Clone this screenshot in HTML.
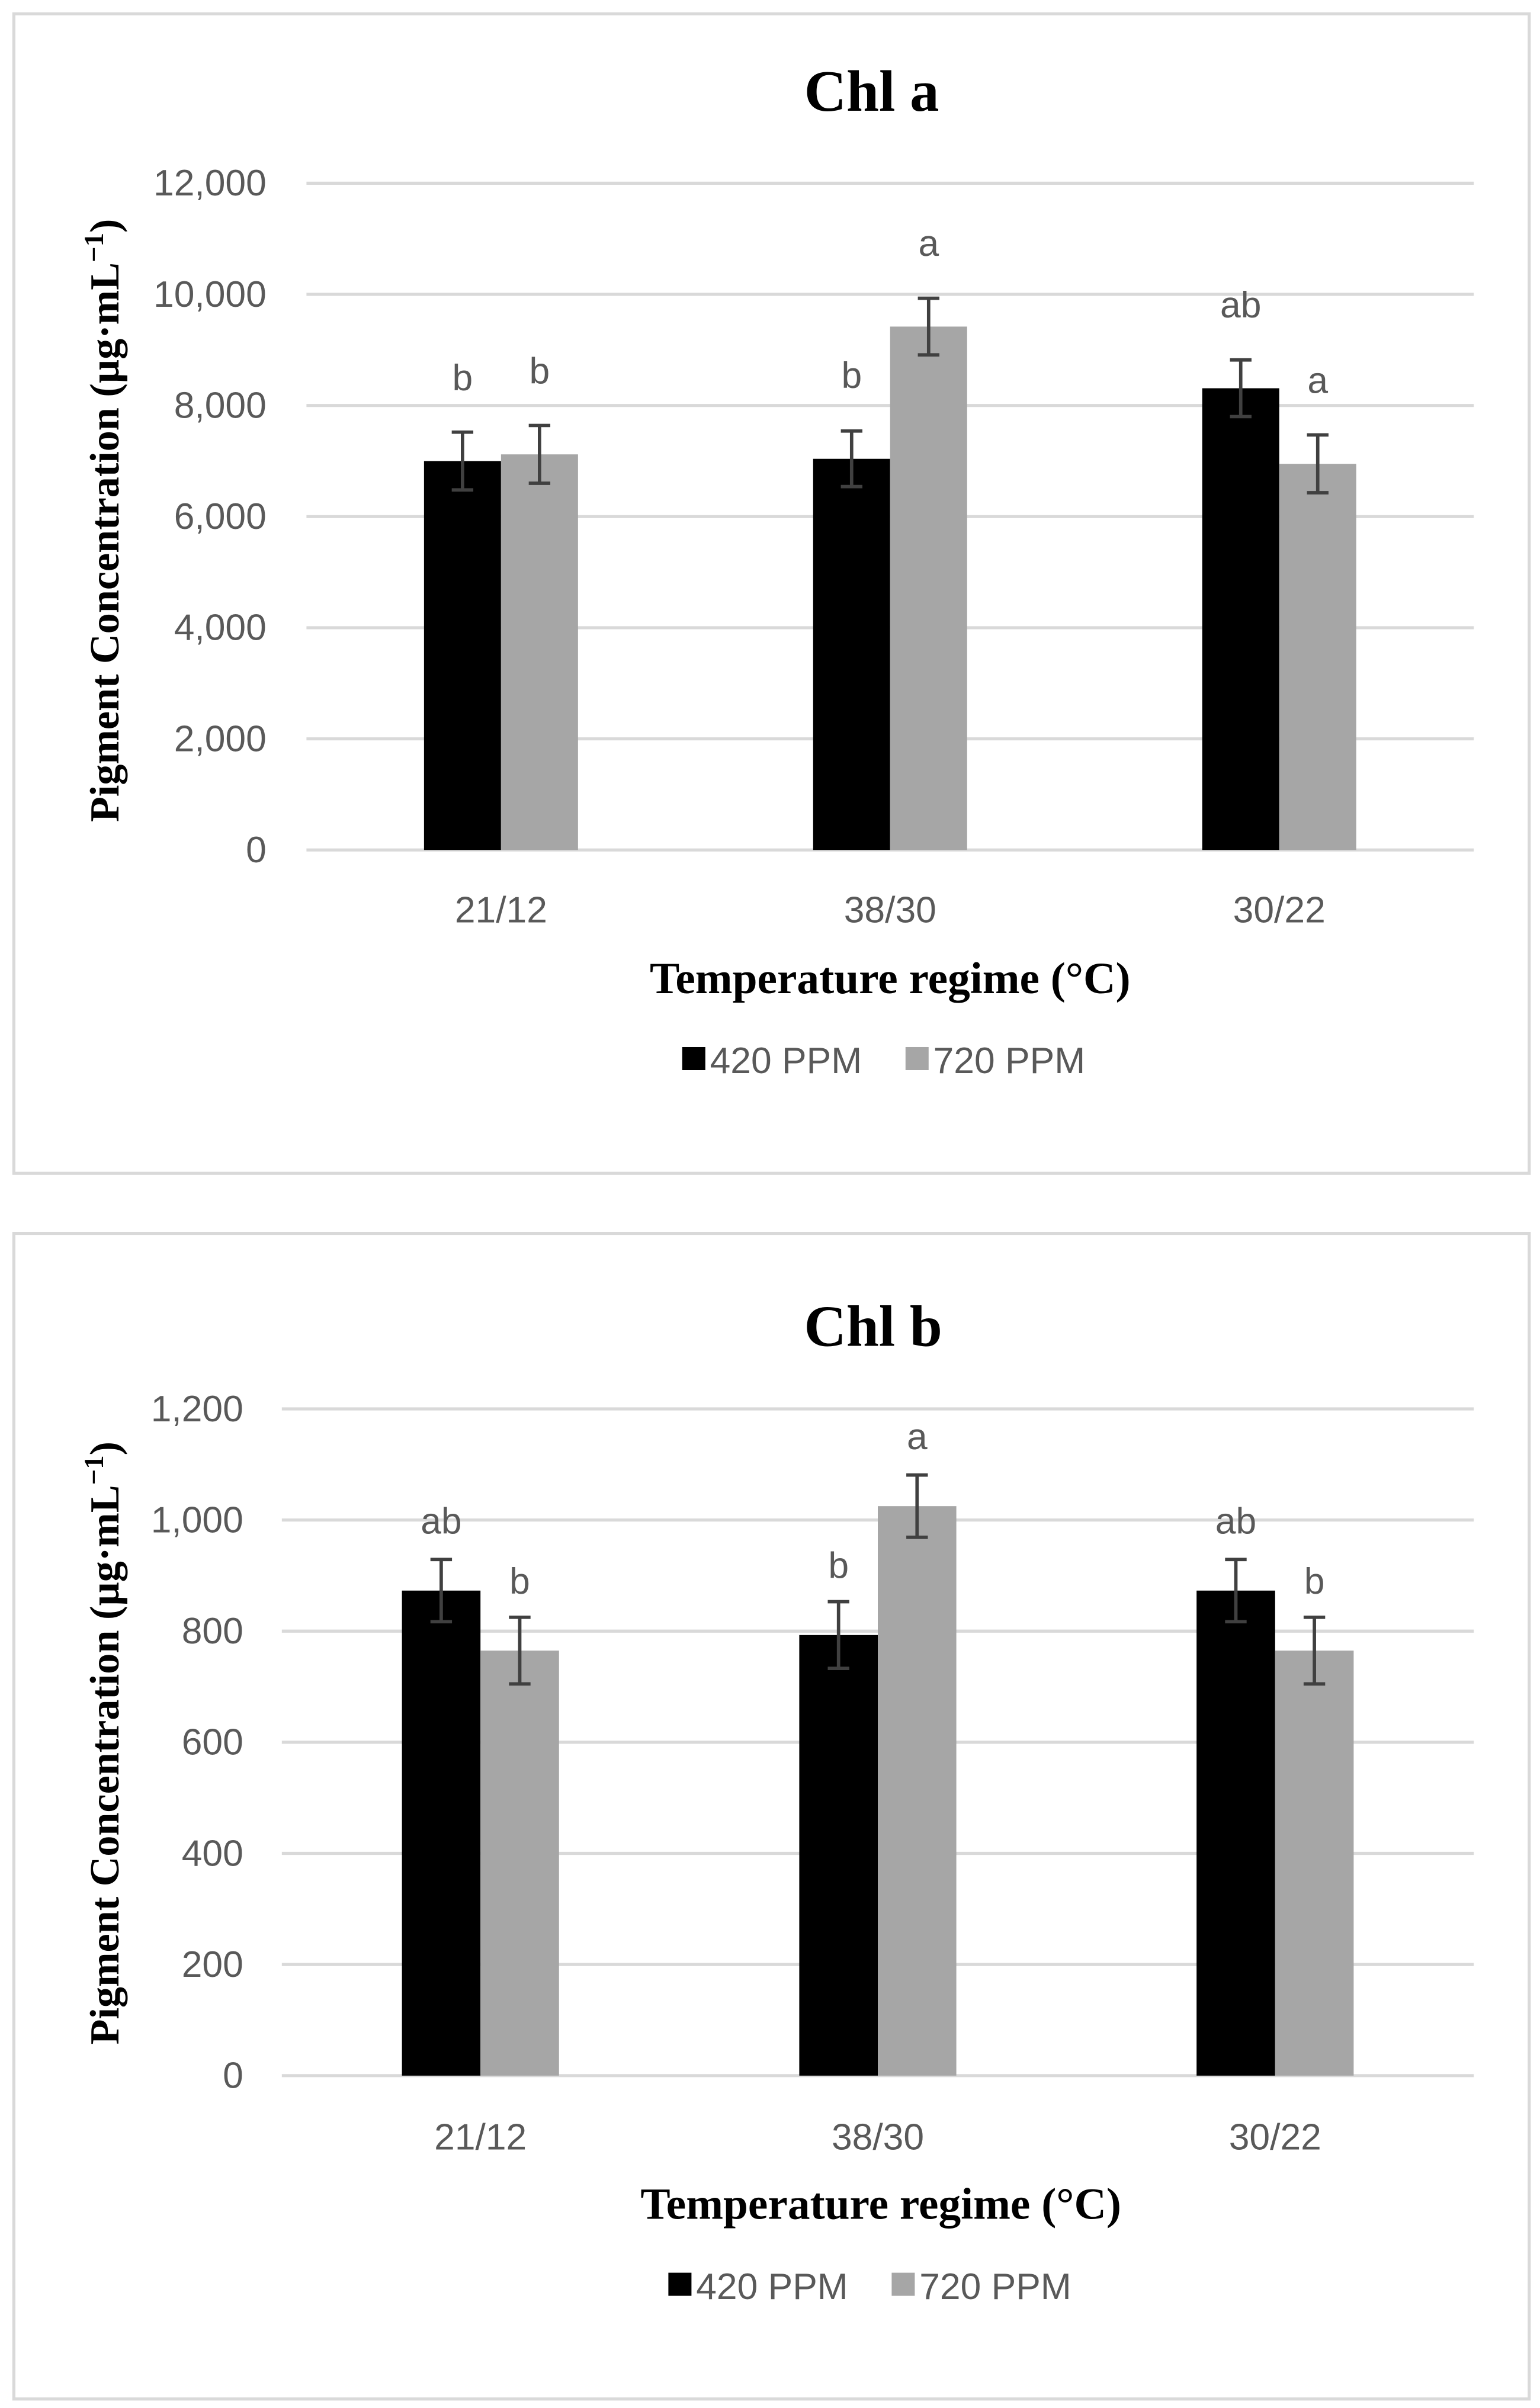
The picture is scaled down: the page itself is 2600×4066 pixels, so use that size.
<!DOCTYPE html>
<html><head><meta charset="utf-8"><style>
html,body{margin:0;padding:0;background:#fff;}
svg{display:block;}
.tick{font-family:"Liberation Sans",sans-serif;font-size:24px;fill:#595959;}
.ttl{font-family:"Liberation Serif",serif;font-weight:bold;fill:#000;}
</style></head><body>
<svg id="fig" width="2600" height="4066" viewBox="0 0 1000 1563.85" xmlns="http://www.w3.org/2000/svg">
<rect x="9" y="9" width="984" height="753" fill="#fff" stroke="#d9d9d9" stroke-width="2"/>
<rect x="9" y="801" width="984" height="757" fill="#fff" stroke="#d9d9d9" stroke-width="2"/>
<g id="ga"></g><g id="gb"></g>
</svg>
<script>
const categories = ["21/12", "38/30", "30/22"];
const seriesNames = ["420 PPM", "720 PPM"];
const aPpm420 = [7000, 7040, 8310];
const aPpm720 = [7120, 9420, 6950];
const aErr420 = [520, 500, 510];
const aErr720 = [520, 510, 520];
const aLetters420 = ["b", "b", "ab"];
const aLetters720 = ["b", "a", "a"];
const aTicks = [0, 2000, 4000, 6000, 8000, 10000, 12000];
const bPpm420 = [873, 793, 873];
const bPpm720 = [765, 1025, 765];
const bErr420 = [56, 60, 56];
const bErr720 = [60, 56, 60];
const bLetters420 = ["ab", "b", "ab"];
const bLetters720 = ["b", "a", "b"];
const bTicks = [0, 200, 400, 600, 800, 1000, 1200];

const NS = "http://www.w3.org/2000/svg";
function mk(parent, tag, attrs, text) {
  const e = document.createElementNS(NS, tag);
  for (const k in attrs) e.setAttribute(k, attrs[k]);
  if (text !== undefined) e.textContent = text;
  parent.appendChild(e);
  return e;
}
function fmt(v){ return v.toLocaleString("en-US"); }

function drawChart(g, cfg) {
  const max = cfg.ticks[cfg.ticks.length - 1];
  const y = v => cfg.y0 - (v / max) * (cfg.y0 - cfg.yTop);
  const cw = (cfg.x1 - cfg.x0) / categories.length;
  const xc = i => cfg.x0 + cw * (i + 0.5);
  const bw = cfg.bw;

  cfg.ticks.forEach(t => {
    const ln = mk(g, "line", {x1: cfg.x0, x2: cfg.x1, y1: y(t), y2: y(t), stroke: "#d9d9d9", "stroke-width": 2});
    
    
    const tx = mk(g, "text", {x: cfg.tickX, y: y(t) + 8, "text-anchor": "end", class: "tick"}, fmt(t));
    
    
  });

  const series = [
    {vals: cfg.s1, err: cfg.e1, let: cfg.l1, color: "#000", off: -bw},
    {vals: cfg.s2, err: cfg.e2, let: cfg.l2, color: "#a6a6a6", off: 0}
  ];
  series.forEach((s, si) => {
    s.vals.forEach((v, i) => {
      const bx = xc(i) + s.off;
      const r = mk(g, "rect", {x: bx, y: y(v), width: bw, height: y(0) - y(v), fill: s.color});
      
      
      const cx = bx + bw / 2;
      const hi = y(v + s.err[i]), lo = y(v - s.err[i]);
      const eb = mk(g, "path", {d: `M${cx},${hi}V${lo}M${cx-7},${hi}H${cx+7}M${cx-7},${lo}H${cx+7}`, stroke: "#404040", "stroke-width": 2.2, fill: "none"});
      
      
      const lt = mk(g, "text", {x: cx, y: y(v) - cfg.letOff, "text-anchor": "middle", class: "tick", "font-size": 25}, s.let[i]);
      
      
    });
  });

  categories.forEach((c, i) => {
    const t = mk(g, "text", {x: xc(i), y: cfg.catY, "text-anchor": "middle", class: "tick", "font-size": 26}, c);
    
    
  });

  const title = mk(g, "text", {x: cfg.titleX, y: cfg.titleY, "text-anchor": "middle", class: "ttl", "font-size": 38}, cfg.title);
  
  

  const xt = mk(g, "text", {x: cfg.xtX, y: cfg.xtY, "text-anchor": "middle", class: "ttl", "font-size": 29}, "Temperature regime (°C)");
  
  

  const yt = mk(g, "text", {x: 0, y: 0, "text-anchor": "middle", class: "ttl", "font-size": 27, transform: `translate(77,${cfg.ytY}) rotate(-90)`});
  
  
  yt.appendChild(document.createTextNode("Pigment Concentration (µg·mL"));
  mk(yt, "tspan", {dy: -10, "font-size": 18}, "−1");
  mk(yt, "tspan", {dy: 10}, ")");

  const lg = [{x: cfg.lg1, c: "#000", n: seriesNames[0]}, {x: cfg.lg2, c: "#a6a6a6", n: seriesNames[1]}];
  lg.forEach((l, i) => {
    const sq = mk(g, "rect", {x: l.x, y: cfg.lgY - 17, width: 15, height: 15, fill: l.c});
    
    
    const tx = mk(g, "text", {x: l.x + 18, y: cfg.lgY, class: "tick", "font-size": 25}, l.n);
    
    
  });
}

drawChart(document.getElementById("ga"), {
  ticks: aTicks, s1: aPpm420, s2: aPpm720, e1: aErr420, e2: aErr720, l1: aLetters420, l2: aLetters720, letOff: 46,
  x0: 199, x1: 957, yTop: 119, y0: 552, bw: 50, tickX: 173, catY: 599, title: "Chl a", titleX: 566, titleY: 72,
  xtX: 578, xtY: 645, ytY: 338, lgY: 697, lg1: 443, lg2: 588
});
drawChart(document.getElementById("gb"), {
  ticks: bTicks, s1: bPpm420, s2: bPpm720, e1: bErr420, e2: bErr720, l1: bLetters420, l2: bLetters720, letOff: 37,
  x0: 183, x1: 957, yTop: 915, y0: 1348, bw: 51, tickX: 158, catY: 1396, title: "Chl b", titleX: 567, titleY: 874,
  xtX: 572, xtY: 1441, ytY: 1132, lgY: 1493, lg1: 434, lg2: 579
});
</script>
</body></html>
